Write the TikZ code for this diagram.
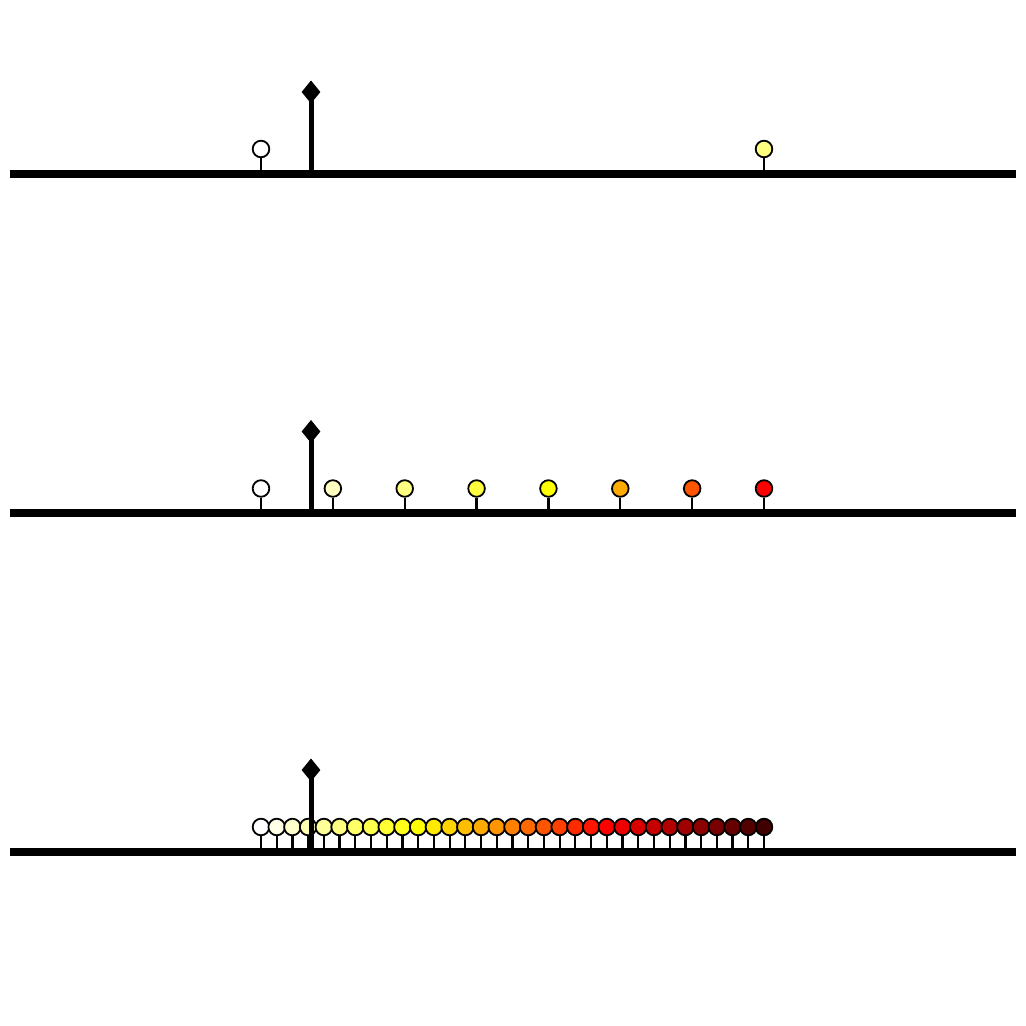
\documentclass[tikz,border=0pt]{standalone}
\usetikzlibrary{shapes.geometric}
\newcommand\stemrow[6]{%
  \coordinate (#1L) at (10,#2);
  \coordinate (#1R) at (1016,#2);
  \draw[baserule] (#1L) -- (#1R);
  \foreach \j in {0,...,#3} {
    \pgfmathsetmacro\xx{261+503*\j/#3}
    \pgfmathsetmacro\cb{max(0,1-\j/#4)}
    \pgfmathsetmacro\cg{max(0,min(1,1-(\j-#4)/(#5-#4)))}
    \pgfmathsetmacro\cr{max(0,min(1,1-#6*(\j-#5)))}
    \definecolor{dotc}{rgb}{\cr,\cg,\cb}
    \coordinate (#1b\j) at (\xx,#2-4);
    \node[dot, fill=dotc] (#1c\j) at (\xx,#2-24.5) {};
    \draw[thinstem] (#1c\j.south) -- (#1b\j);
  }
  \coordinate (#1m) at (311,#2);
  \coordinate (#1t) at (311,#2-81.5);
  \draw[mainstem] (#1m) -- (#1t);
  \node[tip] (#1d) at (#1t) {};
}
\begin{document}
\begin{tikzpicture}[x=1pt,y=-1pt,
  baserule/.style={line width=8pt},
  thinstem/.style={line width=2.2pt},
  dot/.style={circle, draw=black, line width=1.8pt, minimum size=16.6pt, inner sep=0pt},
  mainstem/.style={line width=5pt},
  tip/.style={diamond, fill=black, draw=black, line width=0.8pt, minimum width=18pt, minimum height=22pt, inner sep=0pt}]
\useasboundingbox[fill=white] (0,0) rectangle (1026,1026);
\stemrow{a}{173.5}{1}{2}{100}{0}
\stemrow{b}{513}{7}{4}{7}{0}
\stemrow{c}{851.5}{32}{10}{22}{0.075}
\end{tikzpicture}
\end{document}
